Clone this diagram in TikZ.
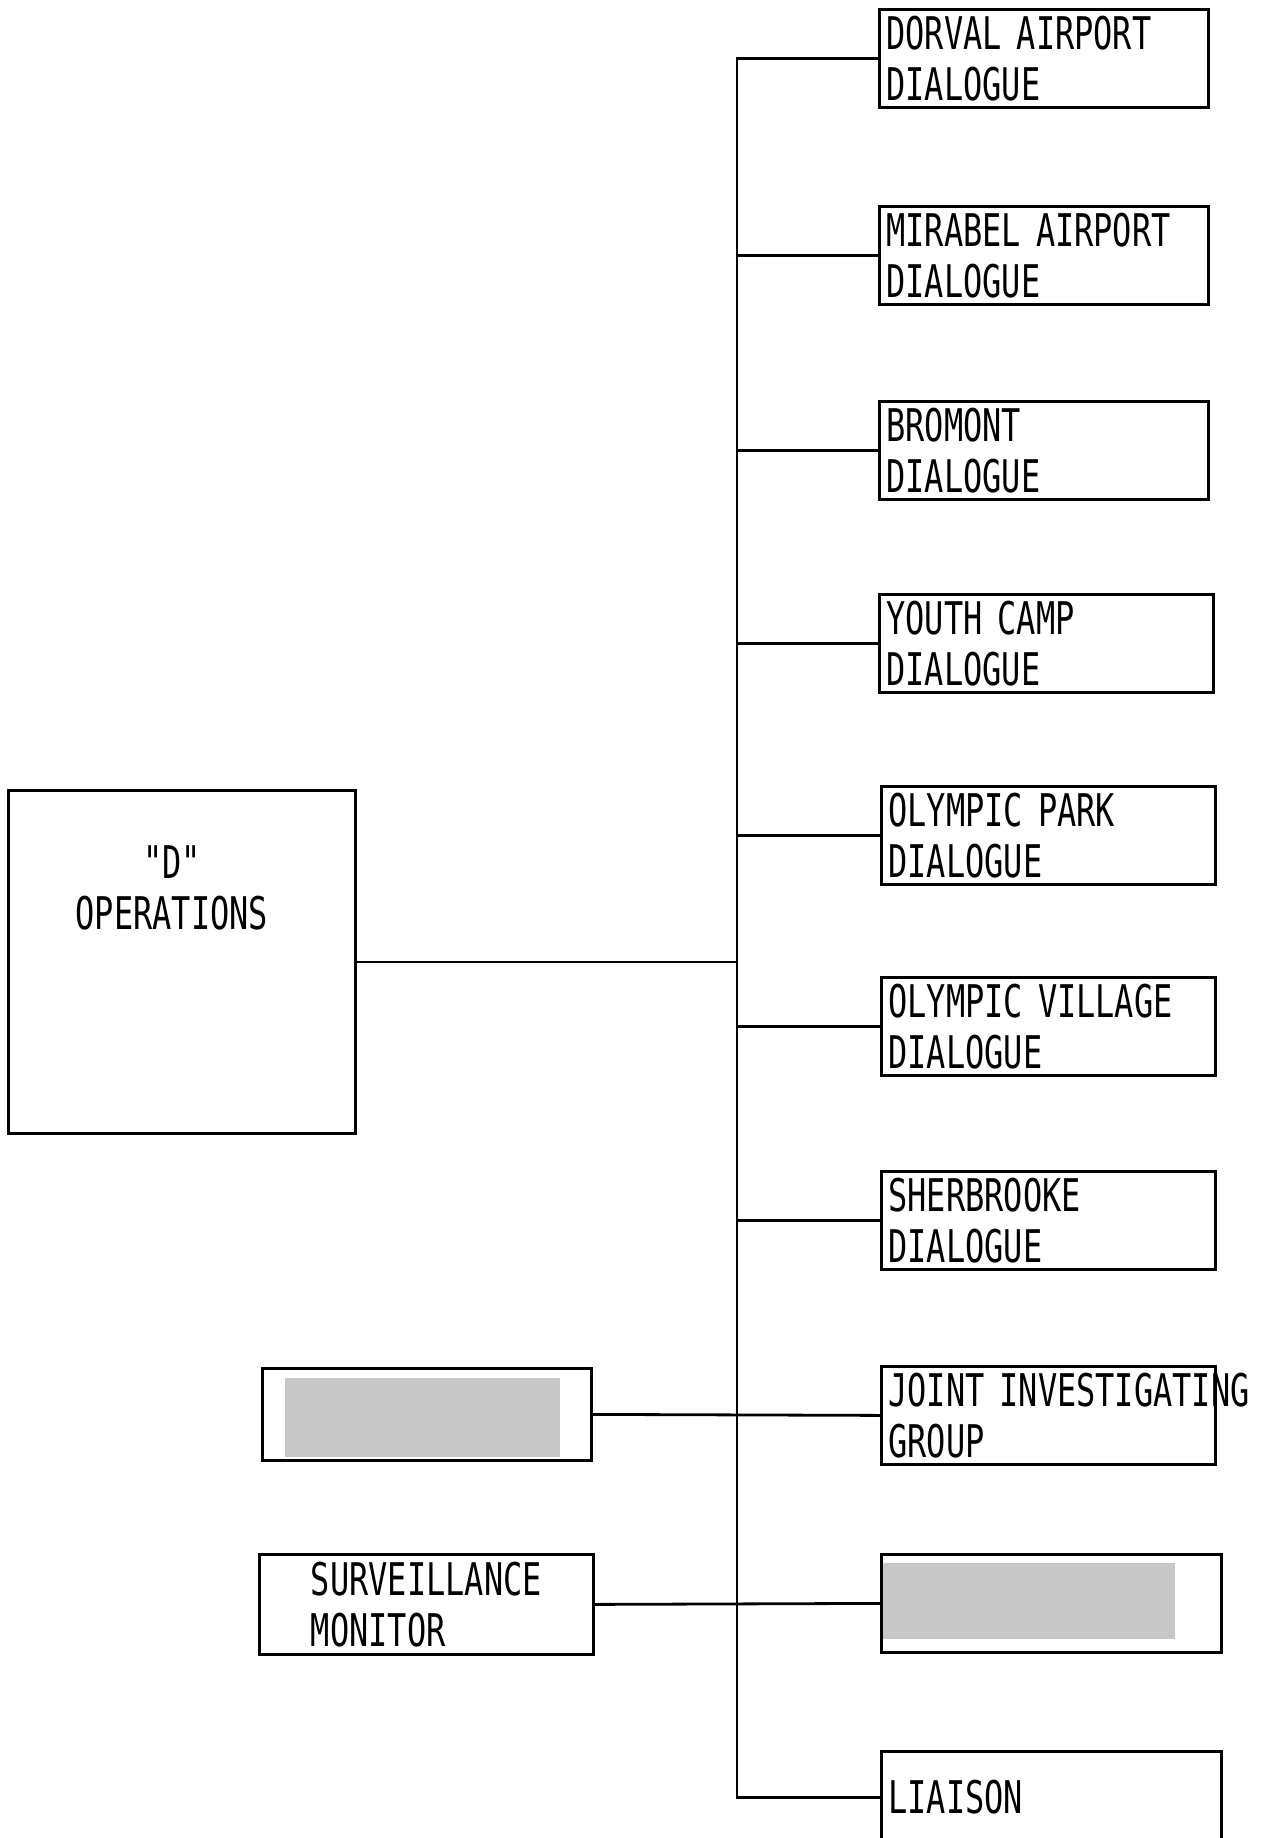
\documentclass[tikz,border=0pt]{standalone}
\usepackage{fontspec}
\newfontfamily\typewfont[FakeStretch=0.71]{DejaVu Sans Mono}
\usetikzlibrary{positioning}

\begin{document}
\begin{tikzpicture}[x=0.5pt,y=-0.5pt,
  txt/.style={inner sep=0pt,font=\typewfont\fontsize{22.5}{25.5}\selectfont},
  box/.style={txt,draw,line width=1.4pt},
  rbox/.style={box,anchor=north west,align=left,text width=160pt,inner xsep=3.5pt,minimum height=49pt},
  lbox/.style={box,anchor=north west,align=left},
  link/.style={line width=1.4pt},
  redact/.style={fill=black!22}]
\useasboundingbox[fill=white] (0,0) rectangle (1273,1838);
% blacked-out entries
\fill[redact] (285,1378) rectangle (560,1457);
\fill[redact] (883,1563) rectangle (1175,1639);
% right column
\node[rbox,text width=157.5pt] (dorval) at (878,8) {DORVAL AIRPORT\\DIALOGUE};
\node[rbox,text width=157.5pt] (mirabel) at (878,205) {MIRABEL AIRPORT\\DIALOGUE};
\node[rbox,text width=157.5pt] (bromont) at (878,400) {BROMONT\\DIALOGUE};
\node[rbox] (youth) at (878,593) {YOUTH CAMP\\DIALOGUE};
\node[rbox] (opark) at (880,785) {OLYMPIC PARK\\DIALOGUE};
\node[rbox] (ovillage) at (880,976) {OLYMPIC VILLAGE\\DIALOGUE};
\node[rbox] (sherb) at (880,1170) {SHERBROOKE\\DIALOGUE};
\node[rbox] (jig) at (880,1365) {\mbox{JOINT INVESTIGATI\rlap{NG}}\\GROUP};
\node[rbox,text width=163pt] (rred) at (880,1553) {};
\node[rbox,text width=163pt,minimum height=46pt] (liaison) at (880,1750) {LIAISON};
% left column
\node[lbox,minimum width=173.5pt,minimum height=171.5pt] (dops) at (7,789) {};
\node[txt,align=center,below=28pt of dops.north,xshift=-5pt] (dlabel) {"D"\\OPERATIONS};
\node[lbox,minimum width=164.5pt,minimum height=46pt] (lred) at (261,1367) {};
\node[lbox,minimum width=167pt,minimum height=50pt] (surv) at (258,1553) {SURVEILLANCE\\MONITOR};
% bus
\coordinate (bus) at (737,0);
\draw[link] (dorval.west) -- (dorval.west -| bus) -- (liaison.west -| bus) -- (liaison.west);
\draw[link] (mirabel.west) -- (mirabel.west -| bus);
\draw[link] (bromont.west) -- (bromont.west -| bus);
\draw[link] (youth.west) -- (youth.west -| bus);
\draw[link] (opark.west) -- (opark.west -| bus);
\draw[link] (ovillage.west) -- (ovillage.west -| bus);
\draw[link] (sherb.west) -- (sherb.west -| bus);
\draw[link] (dops.east) -- (dops.east -| bus);
\draw[link] (lred.east) -- (jig.west);
\draw[link] (surv.east) -- (rred.west);
\end{tikzpicture}
\end{document}
